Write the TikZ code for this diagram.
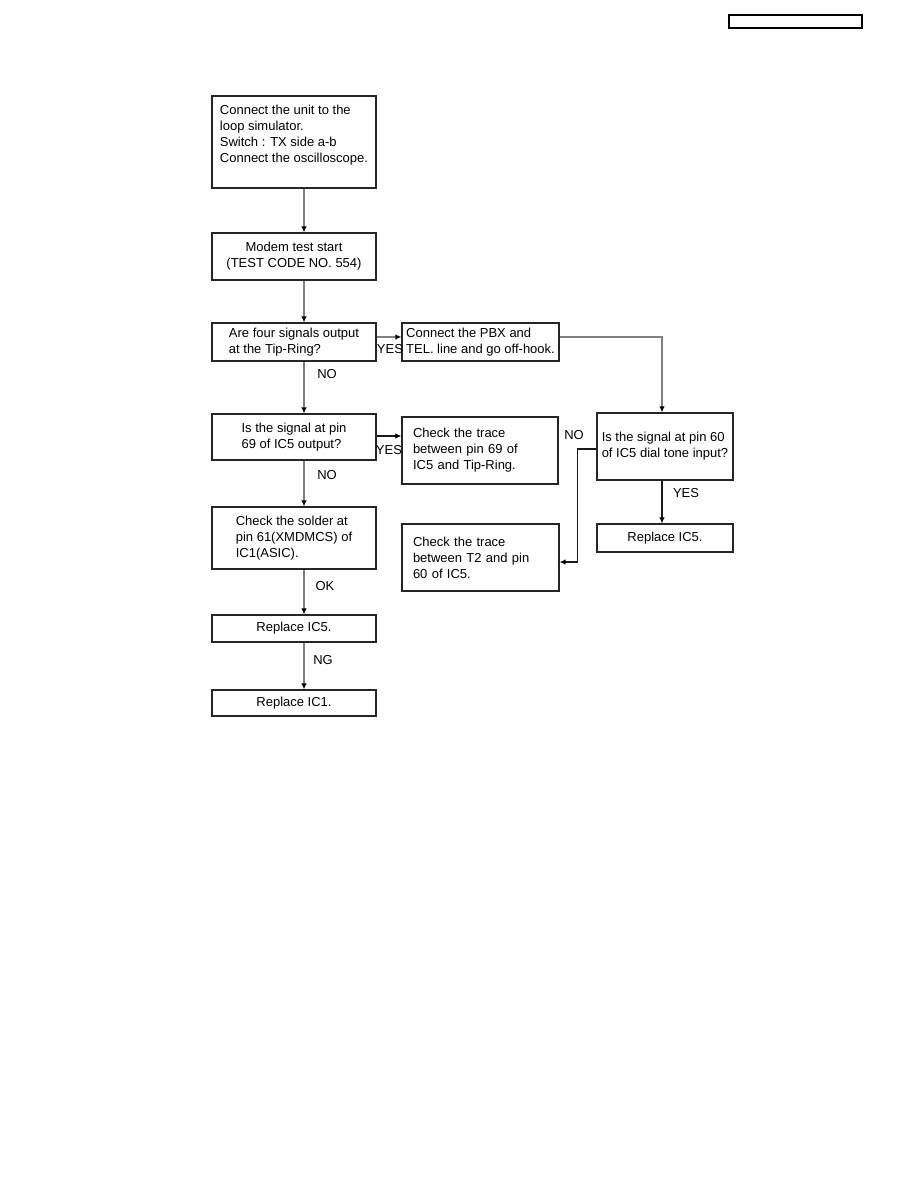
\documentclass[tikz,border=0pt]{standalone}
\usepackage{fontspec}
\setmainfont{Liberation Sans}
\usetikzlibrary{arrows.meta,positioning}
\tikzset{
  box/.style={
    draw = black!85,
    line width = 1.2pt,
    shape = rectangle,
    align = left,
    inner sep = 3pt
  },
}
\tikzset{
  flow/.style={
    draw = black!50,
    line width = 1.3pt,
    -{Latex[length=6pt,width=5.5pt,black]}
  },
  flowdark/.style={
    flow,
    draw = black!90,
    line width = 1.1pt
  },
  lbl/.style={
    inner sep = 1pt
  }
}

\begin{document}
\begin{tikzpicture}[x=1pt, y=-1pt, font=\fontsize{13}{16}\selectfont]
        \useasboundingbox (0,0) rectangle (918,1188);

        % page header
        \node[draw, line width=1.2pt, minimum width=133pt, minimum height=13pt, inner sep=0pt] (hdr) at (795.5,21.5) {};

        % main column
        \node[box, minimum width=164pt, minimum height=92pt] (setup) at (294,142)
            {Connect the unit to the\\loop simulator.\\Switch : TX side a-b\\Connect the oscilloscope.\\ \mbox{}};
        \node[box, align=center, minimum width=164pt, minimum height=47pt] (start) at (294,256.5)
            {Modem test start\\(TEST CODE NO. 554)};
        \node[box, minimum width=164pt, minimum height=38pt] (four) at (294,342)
            {Are four signals output\\at the Tip-Ring?};
        \node[box, minimum width=164pt, minimum height=46pt] (pin69) at (294,437)
            {Is the signal at pin\\69 of IC5 output?};
        \node[box, minimum width=164pt, minimum height=62pt] (solder) at (294,538)
            {Check the solder at\\pin 61(XMDMCS) of\\IC1(ASIC).};
        \node[box, align=center, minimum width=164pt, minimum height=27pt] (repA) at (294,628.5) {Replace IC5.};
        \node[box, align=center, minimum width=164pt, minimum height=26pt] (repB) at (294,703) {Replace IC1.};

        % side branches
        \node[box, minimum width=157pt, minimum height=38pt] (pbx) at (480.5,342)
            {Connect the PBX and\\TEL. line and go off-hook.};
        \node[box, text width=134pt, inner xsep=11pt, minimum height=67pt] (trace69) at (480,450.5)
            {Check the trace\\between pin 69 of\\IC5 and Tip-Ring.};
        \node[box, text width=135pt, inner xsep=11pt, minimum height=67pt] (traceT2) at (480.5,557.5)
            {Check the trace\\between T2 and pin\\60 of IC5.};
        \node[box, minimum width=136pt, minimum height=67pt] (pin60) at (665,446.5)
            {Is the signal at pin 60\\of IC5 dial tone input?};
        \node[box, align=center, minimum width=136pt, minimum height=28pt] (repR) at (665,538) {Replace IC5.};

        \coordinate (spine) at (304,0);

        \draw[flow] (setup.south -| spine) -- (start.north -| spine);
        \draw[flow] (start.south -| spine) -- (four.north -| spine);
        \draw[flow] (four.south -| spine) -- (pin69.north -| spine);
        \draw[flow] (pin69.south -| spine) -- (solder.north -| spine);
        \draw[flow] (solder.south -| spine) -- (repA.north -| spine);
        \draw[flow] (repA.south -| spine) -- (repB.north -| spine);

        \draw[flow] ([yshift=5pt]four.east) -- ([yshift=5pt]four.east -| pbx.west);
        \draw[flow] ([yshift=5pt]pbx.east) -| ([xshift=-3pt]pin60.north);
        \draw[flowdark] ([yshift=1pt]pin69.east) -- ([yshift=1pt]pin69.east -| trace69.west);
        \draw[flowdark] ([xshift=-3pt]pin60.south) -- ([xshift=-3pt]pin60.south |- repR.north);
        \draw[flowdark] ([yshift=-2.5pt]pin60.west) -- ++(-19pt,0) |- ([yshift=-4.5pt]traceT2.east);

        \node[lbl] (yesA) at (390,349) {YES};
        \node[lbl] (noA) at (327,374) {NO};
        \node[lbl] (yesB) at (389,450) {YES};
        \node[lbl] (noB) at (327,475) {NO};
        \node[lbl] (noC) at (574,435) {NO};
        \node[lbl] (yesC) at (686,493) {YES};
        \node[lbl] (okA) at (325,586) {OK};
        \node[lbl] (ngA) at (323,660) {NG};
\end{tikzpicture}
\end{document}
